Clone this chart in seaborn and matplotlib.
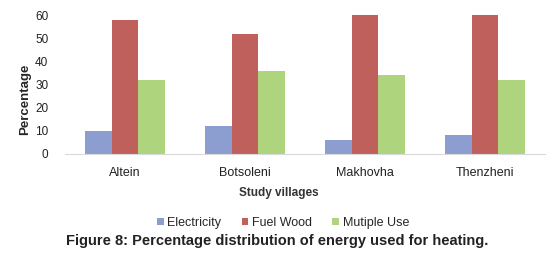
import pandas as pd
import matplotlib
matplotlib.use("Agg")
import matplotlib.pyplot as plt
import seaborn as sns

# 데이터
villages = ['Altein', 'Botsoleni', 'Makhovha', 'Thenzheni']
electricity = [10, 12, 6, 8]
fuel_wood = [58, 52, 60, 60]
multiple_use = [32, 36, 34, 32]

df = pd.DataFrame({
    'Village': villages * 3,
    'Source': ['Electricity'] * 4 + ['Fuel Wood'] * 4 + ['Mutiple Use'] * 4,
    'Percentage': electricity + fuel_wood + multiple_use,
})

sns.set_style("white")
plt.rcParams['font.family'] = ['Liberation Sans', 'DejaVu Sans']

palette = {'Electricity': '#8C9ECF', 'Fuel Wood': '#C0605C', 'Mutiple Use': '#AED57D'}

fig = plt.figure(figsize=(5.54, 2.58), dpi=100)
ax = fig.add_axes([65 / 554, 1 - 154 / 258, 480 / 554, 139 / 258])

sns.barplot(data=df, x='Village', y='Percentage', hue='Source', palette=palette,
            width=0.66, gap=0, saturation=1, linewidth=0, ax=ax, legend=True)

ax.set_ylim(0, 60)
ax.set_yticks(range(0, 61, 10))
ax.set_xlim(-0.5, 3.5)
for s in ['top', 'right', 'left']:
    ax.spines[s].set_visible(False)
ax.spines['bottom'].set_color('#D9D9D9')
ax.spines['bottom'].set_linewidth(0.8)
ax.tick_params(axis='x', length=0, labelsize=9, colors='#222222', pad=9)
ax.tick_params(axis='y', length=0, labelsize=8.5, colors='#222222', pad=12)

# 축 제목
ax.set_ylabel('Percentage', fontsize=9.5, fontweight='bold')
ax.yaxis.label.set_va('center')
ax.yaxis.set_label_coords((25 - 65) / 480, (154 - 99) / 139)
ax.set_xlabel('Study villages', fontsize=8.5, fontweight='bold', color='#333333')
ax.xaxis.label.set_va('center')
ax.xaxis.set_label_coords((279 - 65) / 480, (154 - 193) / 139)

ax.legend(loc='center', bbox_to_anchor=(283 / 554, 1 - 223 / 258), bbox_transform=fig.transFigure,
          ncol=3, frameon=False, fontsize=9, handlelength=0.55, handleheight=0.55,
          handletextpad=0.3, columnspacing=1.6)

fig.text(277 / 554, 1 - 241 / 258, 'Figure 8: Percentage distribution of energy used for heating.',
         ha='center', va='center', fontsize=10.5, fontweight='bold', color='#222222')

fig.savefig('out.png', dpi=100)
